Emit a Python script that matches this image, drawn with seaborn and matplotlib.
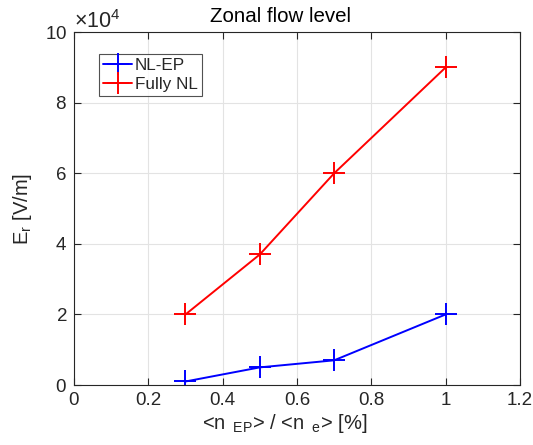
import matplotlib
matplotlib.use("Agg")
import matplotlib.pyplot as plt
import matplotlib.ticker as mticker
import numpy as np
import pandas as pd
import seaborn as sns

# Energetic-particle density fraction [%]
n_ep_ratio = [0.3, 0.5, 0.7, 1.0]
# Radial electric field [V/m]
er_nl_ep = [1000, 5000, 7000, 20000]
er_fully_nl = [20000, 37000, 60000, 90000]
series_names = ["NL-EP", "Fully NL"]
series_colors = ["#0000ff", "#ff0000"]

df = pd.DataFrame({
    "ratio": n_ep_ratio * 2,
    "Er": er_nl_ep + er_fully_nl,
    "model": [series_names[0]] * len(n_ep_ratio) + [series_names[1]] * len(n_ep_ratio),
})

sns.set_theme(style="white")
plt.rcParams["font.family"] = ["Liberation Sans", "DejaVu Sans"]
plt.rcParams["mathtext.fontset"] = "custom"
plt.rcParams["mathtext.rm"] = "Liberation Sans"
plt.rcParams["mathtext.it"] = "Liberation Sans"

axis_color = "#262626"
fs_tick = 13.5

fig = plt.figure(figsize=(5.33, 4.45), dpi=100)
ax = fig.add_axes([0.1388, 0.1348, 0.8368, 0.793])

for name, color in zip(series_names, series_colors):
    sub = df[df["model"] == name]
    sns.lineplot(
        data=sub, x="ratio", y="Er", color=color, label=name,
        marker="+", markersize=16, markeredgewidth=1.4, markeredgecolor=color,
        linewidth=1.4, ax=ax, sort=False, estimator=None,
    )

ax.set_xlim(0, 1.2)
ax.set_ylim(0, 100000)
ax.set_xticks(np.arange(0, 1.21, 0.2))
ax.set_yticks(np.arange(0, 100001, 20000))
ax.xaxis.set_major_formatter(mticker.FuncFormatter(lambda v, p: f"{v:g}"))
fmt = mticker.ScalarFormatter(useMathText=True)
fmt.set_powerlimits((4, 4))
ax.yaxis.set_major_formatter(fmt)

ax.grid(True, color="#e3e3e3", linewidth=0.8)
ax.set_axisbelow(True)
for s in ax.spines.values():
    s.set_color(axis_color)
    s.set_linewidth(0.8)
ax.tick_params(direction="in", length=5, width=0.8, colors=axis_color,
               labelcolor=axis_color, labelsize=fs_tick, top=True, right=True,
               bottom=True, left=True, pad=5)
ax.yaxis.get_offset_text().set_fontsize(15.5)
ax.yaxis.get_offset_text().set_color(axis_color)

ax.set_title("Zonal flow level", fontsize=14.8, color="black", pad=7, x=0.464)
ax.set_xlabel(r"<n$_{\rm\ \ EP}$> / <n$_{\rm\ \ e}$> [%]", fontsize=14.5,
              color=axis_color, labelpad=2, x=0.472)
ax.set_ylabel(r"E$_{\rm r}$ [V/m]", fontsize=14.5, color=axis_color, labelpad=8)

leg = ax.legend(loc="upper left", bbox_to_anchor=(0.056, 0.938), frameon=True,
                fancybox=False, edgecolor=axis_color, fontsize=12.3,
                handlelength=1.7, handletextpad=0.15, borderpad=0.25,
                labelspacing=0.2, borderaxespad=0)
leg.get_frame().set_linewidth(0.8)

fig.savefig("out.png", dpi=100)
